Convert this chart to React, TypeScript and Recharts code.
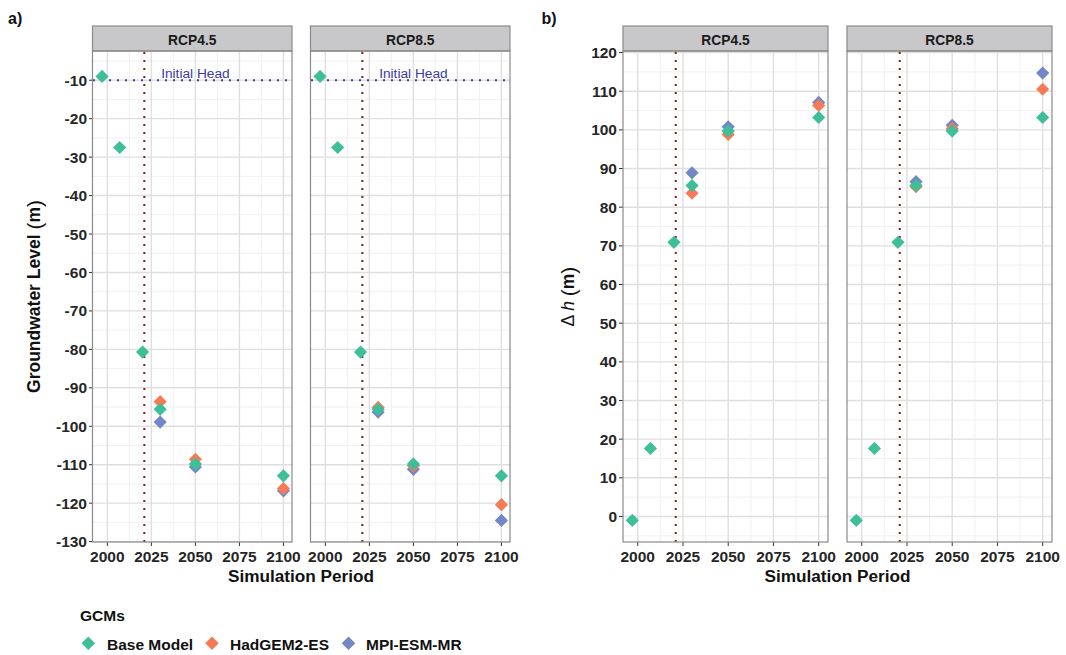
import React from 'react';
import { ScatterChart, Scatter, XAxis, YAxis, CartesianGrid, ReferenceLine, ReferenceDot } from 'recharts';

// ---------- data ----------
const years = [1997, 2007, 2020, 2030, 2050, 2100];
const gcmYears = [2030, 2050, 2100];

const baseHead = [-9.0, -27.5, -80.7, -95.6, -109.8, -112.9];
const hadHead45 = [-93.6, -108.6, -116.2];
const mpiHead45 = [-98.9, -110.6, -116.8];
const hadHead85 = [-95.1, -110.3, -120.4];
const mpiHead85 = [-96.3, -111.2, -124.5];

const baseDh = [-1.0, 17.6, 70.9, 85.6, 99.7, 103.2];
const hadDh45 = [83.6, 98.8, 106.3];
const mpiDh45 = [88.9, 100.8, 107.1];
const hadDh85 = [85.3, 100.3, 110.5];
const mpiDh85 = [86.6, 101.2, 114.7];

const xTicks = [2000, 2025, 2050, 2075, 2100];
const xMinor = [2012.5, 2037.5, 2062.5, 2087.5];
const headTicks = [-10, -20, -30, -40, -50, -60, -70, -80, -90, -100, -110, -120, -130];
const headMinor = [-5, -15, -25, -35, -45, -55, -65, -75, -85, -95, -105, -115, -125];
const dhTicks = [0, 10, 20, 30, 40, 50, 60, 70, 80, 90, 100, 110, 120];
const dhMinor = [-5, 5, 15, 25, 35, 45, 55, 65, 75, 85, 95, 105, 115];

const scenarios = ['RCP4.5', 'RCP8.5'];
const gcmNames = ['Base Model', 'HadGEM2-ES', 'MPI-ESM-MR'];
const gcmColors = ['#3fbf98', '#f57b56', '#7487c5'];

const initialHead = -10;
const initialHeadLabel = 'Initial Head';
const initialHeadLabelYear = 2050;
const futureStart = 2021;

const xDomain = [1991.85, 2105.15];
const headDomain = [-130.1, -2.4];
const dhDomain = [-6.6, 120.4];

// ---------- layout ----------
const FONT = "'Liberation Sans', Arial, Helvetica, sans-serif";
const PLOT_TOP = 51;
const PLOT_H = 491;
const STRIP_TOP = 26;
const Y_AXIS_W = 62;
const X_AXIS_H = 40;
const PAD = 24;
const PAD_TOP = 14;

const toPts = (xs: number[], ys: number[]) => xs.map((x, i) => ({ x, y: ys[i] }));

const Diamond = (props: any) => {
  const { cx, cy, fill } = props;
  if (cx == null || cy == null) return null;
  const r = 6.6;
  return (
    <polygon
      points={`${cx},${cy - r} ${cx + r},${cy} ${cx},${cy + r} ${cx - r},${cy}`}
      fill={fill}
    />
  );
};

const tickStyle = { fill: '#262626', fontSize: 15.5, fontWeight: 700, fontFamily: FONT };

type FacetProps = {
  left: number;
  plotW: number;
  showY: boolean;
  yDomain: number[];
  yTicks: number[];
  yMinor: number[];
  base: number[];
  had: number[];
  mpi: number[];
  showHead: boolean;
};

function Facet({ left, plotW, showY, yDomain, yTicks, yMinor, base, had, mpi, showHead }: FacetProps) {
  const yW = showY ? Y_AXIS_W : 0;
  const padL = showY ? 0 : PAD;
  const width = padL + yW + plotW + PAD;
  const height = PAD_TOP + PLOT_H + X_AXIS_H;
  return (
    <div style={{ position: 'absolute', left: left - yW - padL, top: PLOT_TOP - PAD_TOP }}>
      <ScatterChart
        width={width}
        height={height}
        margin={{ top: PAD_TOP, right: PAD, bottom: 0, left: padL }}
        style={{ overflow: 'visible' }}
      >
        <CartesianGrid
          horizontalValues={yMinor}
          verticalValues={xMinor}
          stroke="#efefef"
          strokeWidth={0.9}
          fill="none"
        />
        <CartesianGrid
          horizontalValues={yTicks}
          verticalValues={xTicks}
          stroke="#dfdfdf"
          strokeWidth={1.4}
          fill="none"
        />
        <XAxis
          type="number"
          dataKey="x"
          domain={xDomain}
          ticks={xTicks}
          interval={0}
          allowDataOverflow
          axisLine={false}
          tickSize={4}
          tickMargin={5}
          tickLine={{ stroke: '#333333' }}
          tick={tickStyle}
          height={X_AXIS_H}
        />
        <YAxis
          type="number"
          dataKey="y"
          domain={yDomain}
          ticks={yTicks}
          interval={0}
          allowDataOverflow
          hide={!showY}
          width={yW}
          axisLine={false}
          tickSize={4}
          tickMargin={2}
          tickLine={{ stroke: '#333333' }}
          tick={tickStyle}
        />
        <ReferenceLine x={futureStart} stroke="#8b1a1a" strokeWidth={2} strokeDasharray="2 6" />
        {showHead && (
          <ReferenceLine y={initialHead} stroke="#3b3b9e" strokeWidth={2} strokeDasharray="2 6" />
        )}
        {showHead && (
          <ReferenceDot
            x={initialHeadLabelYear}
            y={initialHead}
            r={0}
            fill="none"
            stroke="none"
            label={{
              value: initialHeadLabel,
              position: 'top',
              offset: 2,
              fill: '#3a3aa2',
              fontSize: 13.7,
              fontFamily: FONT,
            }}
          />
        )}
        <Scatter data={toPts(gcmYears, mpi)} fill={gcmColors[2]} shape={Diamond} isAnimationActive={false} />
        <Scatter data={toPts(gcmYears, had)} fill={gcmColors[1]} shape={Diamond} isAnimationActive={false} />
        <Scatter data={toPts(years, base)} fill={gcmColors[0]} shape={Diamond} isAnimationActive={false} />
      </ScatterChart>
    </div>
  );
}

const panelsA = [
  { left: 92.5, plotW: 199.5 },
  { left: 310.5, plotW: 199.5 },
];
const panelsB = [
  { left: 623, plotW: 205 },
  { left: 847, plotW: 205 },
];

export default function App() {
  const allPanels = [...panelsA, ...panelsB];
  const legendItems = [
    { dx: 88.3, tx: 107 },
    { dx: 212, tx: 230 },
    { dx: 348.5, tx: 366 },
  ];
  return (
    <div
      style={{
        position: 'absolute',
        left: 0,
        top: 0,
        width: 1066,
        height: 655,
        background: '#ffffff',
        fontFamily: FONT,
        overflow: 'hidden',
      }}
    >
      <Facet {...panelsA[0]} showY yDomain={headDomain} yTicks={headTicks} yMinor={headMinor}
        base={baseHead} had={hadHead45} mpi={mpiHead45} showHead />
      <Facet {...panelsA[1]} showY={false} yDomain={headDomain} yTicks={headTicks} yMinor={headMinor}
        base={baseHead} had={hadHead85} mpi={mpiHead85} showHead />
      <Facet {...panelsB[0]} showY yDomain={dhDomain} yTicks={dhTicks} yMinor={dhMinor}
        base={baseDh} had={hadDh45} mpi={mpiDh45} showHead={false} />
      <Facet {...panelsB[1]} showY={false} yDomain={dhDomain} yTicks={dhTicks} yMinor={dhMinor}
        base={baseDh} had={hadDh85} mpi={mpiDh85} showHead={false} />

      <svg
        width={1066}
        height={655}
        style={{ position: 'absolute', left: 0, top: 0, pointerEvents: 'none' }}
        fontFamily={FONT}
      >
        {allPanels.map((p, i) => (
          <g key={i}>
            <rect x={p.left} y={STRIP_TOP} width={p.plotW} height={PLOT_TOP - STRIP_TOP}
              fill="#c8c8ca" stroke="#8a8a8a" strokeWidth={1.2} />
            <text x={p.left + p.plotW / 2} y={44.5} textAnchor="middle" fontSize={13.8}
              fontWeight={700} fill="#1a1a1a">
              {scenarios[i % 2]}
            </text>
            <rect x={p.left} y={PLOT_TOP} width={p.plotW} height={PLOT_H}
              fill="none" stroke="#8a8a8a" strokeWidth={1.2} />
          </g>
        ))}

        <text x={8} y={23.5} fontSize={16} fontWeight={700} fill="#111">a)</text>
        <text x={541.5} y={23.5} fontSize={16} fontWeight={700} fill="#111">b)</text>

        <text
          transform="translate(34,296.5) rotate(-90)"
          textAnchor="middle"
          dominantBaseline="central"
          fontSize={17.5}
          fontWeight={700}
          fill="#111"
        >
          Groundwater Level <tspan fontWeight={400} fontSize={21}>(</tspan>m<tspan fontWeight={400} fontSize={21}>)</tspan>
        </text>
        <text
          transform="translate(568,296.5) rotate(-90)"
          textAnchor="middle"
          dominantBaseline="central"
          fontSize={17.5}
          fill="#111"
        >
          Δ <tspan fontStyle="italic">h</tspan> <tspan fontSize={21}>(</tspan><tspan fontWeight={700}>m</tspan><tspan fontSize={21}>)</tspan>
        </text>

        <text x={301} y={581.5} textAnchor="middle" fontSize={17.2} fontWeight={700} fill="#111">
          Simulation Period
        </text>
        <text x={837.5} y={581.5} textAnchor="middle" fontSize={17.2} fontWeight={700} fill="#111">
          Simulation Period
        </text>

        <text x={80} y={620.5} fontSize={15.5} fontWeight={700} fill="#111">GCMs</text>
        {gcmNames.map((name, i) => {
          const it = legendItems[i];
          const cy = 643.3;
          const r = 6.8;
          return (
            <g key={name}>
              <polygon
                points={`${it.dx},${cy - r} ${it.dx + r},${cy} ${it.dx},${cy + r} ${it.dx - r},${cy}`}
                fill={gcmColors[i]}
              />
              <text x={it.tx} y={649.5} fontSize={15.5} fontWeight={700} fill="#111">{name}</text>
            </g>
          );
        })}
      </svg>
    </div>
  );
}
